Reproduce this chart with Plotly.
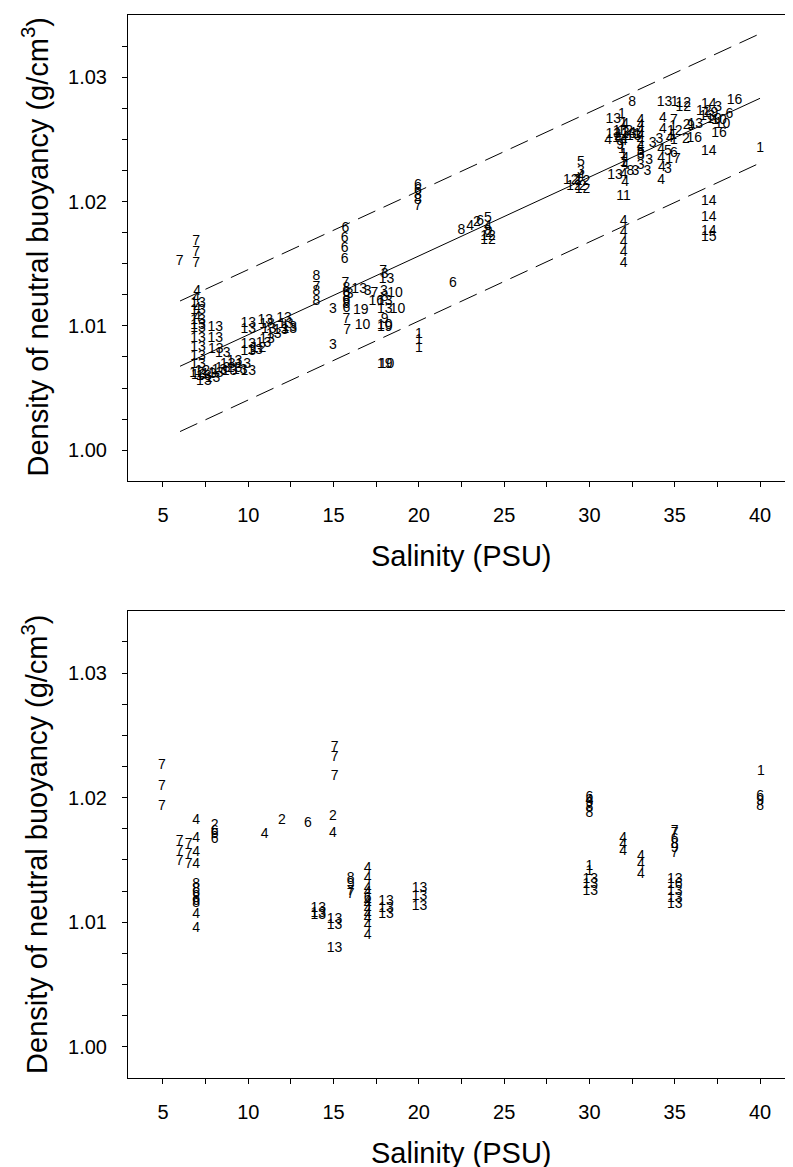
import plotly.graph_objects as go

# ---------------- DATA ----------------
# Top panel: (label, salinity, density)
top_left_7s = [("7", 5.98, 1.0152), ("7", 6.95, 1.0168), ("7", 6.95, 1.0159), ("7", 6.95, 1.0150)]
top_col_7 = [("4", 7.0, 1.0128), ("4", 6.95, 1.0122), ("13", 7.05, 1.0118), ("4", 7.0, 1.0114),
             ("13", 7.05, 1.0112), ("4", 7.0, 1.0107), ("13", 7.05, 1.0104), ("13", 7.05, 1.0100),
             ("13", 7.05, 1.0098), ("13", 7.05, 1.0090), ("13", 7.05, 1.0083), ("13", 7.05, 1.0075),
             ("13", 7.05, 1.0069), ("12", 7.0, 1.0062), ("13", 7.1, 1.0060), ("13", 7.4, 1.0055),
             ("13", 7.4, 1.0059)]
top_low_cluster = [("12", 7.3, 1.0063), ("13", 7.7, 1.0061), ("13", 7.9, 1.0058), ("13", 8.1, 1.0062),
                   ("13", 8.3, 1.0064), ("13", 8.5, 1.0066), ("13", 8.5, 1.0078), ("13", 8.1, 1.0081),
                   ("13", 8.06, 1.0099), ("13", 8.06, 1.0090), ("13", 9.2, 1.0071), ("13", 9.7, 1.0069),
                   ("13", 9.2, 1.0066), ("13", 8.9, 1.0063), ("13", 9.5, 1.0064), ("13", 10.0, 1.0063),
                   ("13", 8.8, 1.0069)]
top_mid_band = [("13", 10.0, 1.0102), ("13", 10.0, 1.0097), ("13", 11.0, 1.0104), ("18", 11.1, 1.0101),
                ("13", 11.2, 1.0097), ("13", 12.1, 1.0106), ("13", 12.2, 1.0101), ("13", 10.0, 1.0085),
                ("13", 10.0, 1.0079), ("12", 10.6, 1.0082), ("13", 10.9, 1.0086), ("13", 11.1, 1.0089),
                ("13", 11.5, 1.0093), ("13", 11.9, 1.0096), ("13", 12.4, 1.0097), ("13", 12.4, 1.0099),
                ("13", 10.4, 1.0080)]
top_s14_16 = [("8", 14.0, 1.0140), ("7", 14.0, 1.0131), ("8", 14.0, 1.0128), ("8", 14.0, 1.0120),
              ("3", 14.96, 1.0113), ("3", 14.96, 1.0084),
              ("6", 15.7, 1.0178), ("6", 15.65, 1.0170), ("6", 15.65, 1.0162), ("6", 15.65, 1.0153),
              ("7", 15.7, 1.0134), ("8", 15.75, 1.0130), ("6", 15.75, 1.0126), ("8", 15.75, 1.0123),
              ("6", 15.75, 1.0120), ("8", 15.75, 1.0117), ("6", 15.75, 1.0114), ("3", 15.95, 1.0125),
              ("13", 16.5, 1.0129), ("3", 17.0, 1.0128), ("7", 15.75, 1.0105), ("7", 15.8, 1.0096),
              ("19", 16.6, 1.0112), ("10", 16.7, 1.0100)]
top_s18 = [("7", 17.9, 1.0144), ("3", 18.0, 1.0141), ("13", 18.1, 1.0137), ("7", 17.4, 1.0126),
           ("3", 17.95, 1.0128), ("10", 18.6, 1.0126), ("16", 17.5, 1.0120), ("13", 18.0, 1.0120),
           ("8", 18.0, 1.0123), ("13", 18.0, 1.0113), ("10", 18.75, 1.0113), ("9", 18.0, 1.0105),
           ("10", 18.0, 1.0100), ("19", 18.0, 1.0099), ("19", 18.0, 1.0069), ("10", 18.1, 1.0069)]
top_s20_24 = [("6", 22.0, 1.0134), ("1", 20.0, 1.0093), ("1", 20.0, 1.0088), ("1", 20.0, 1.0082),
              ("6", 19.95, 1.0213), ("6", 19.95, 1.0209), ("8", 19.95, 1.0205), ("8", 19.95, 1.0201),
              ("7", 19.95, 1.0196), ("8", 22.5, 1.0177), ("4", 23.0, 1.0180), ("2", 23.4, 1.0183),
              ("6", 23.6, 1.0184), ("5", 24.05, 1.0186), ("4", 24.05, 1.0180), ("8", 24.05, 1.0176),
              ("2", 24.1, 1.0174), ("12", 24.05, 1.0172), ("12", 24.05, 1.0169)]
top_s29 = [("5", 29.5, 1.0231), ("3", 29.5, 1.0224), ("4", 29.5, 1.0220), ("12", 28.9, 1.0217),
           ("2", 29.3, 1.0217), ("12", 29.6, 1.0216), ("2", 29.6, 1.0212), ("12", 29.1, 1.0212),
           ("12", 29.6, 1.0210)]
top_s31_34 = [("13", 31.4, 1.0266), ("1", 31.9, 1.0270), ("1", 32.0, 1.0263), ("4", 32.1, 1.0262),
              ("8", 32.5, 1.0280), ("4", 33.0, 1.0265), ("4", 33.0, 1.0261), ("4", 33.0, 1.0257),
              ("4", 33.0, 1.0253), ("4", 33.0, 1.0249), ("4", 33.0, 1.0244), ("4", 31.1, 1.0249),
              ("13", 31.4, 1.0254), ("1", 31.6, 1.0256), ("4", 31.7, 1.0251), ("13", 31.9, 1.0255),
              ("4", 32.0, 1.0248), ("12", 32.1, 1.0256), ("13", 32.3, 1.0254), ("4", 32.5, 1.0255),
              ("13", 32.6, 1.0252), ("1", 32.8, 1.0254), ("14", 31.8, 1.0251), ("9", 31.8, 1.0245),
              ("1", 31.9, 1.0242), ("1", 32.0, 1.0238), ("4", 32.1, 1.0235), ("1", 32.0, 1.0231),
              ("4", 32.1, 1.0229), ("13", 31.5, 1.0221), ("4", 32.0, 1.0222), ("8", 32.4, 1.0224),
              ("3", 32.7, 1.0224), ("4", 32.1, 1.0215), ("11", 32.0, 1.0204), ("5", 33.0, 1.0240),
              ("3", 33.0, 1.0238), ("5", 33.0, 1.0236), ("3", 33.0, 1.0229), ("3", 33.5, 1.0233),
              ("3", 33.4, 1.0224), ("3", 33.7, 1.0247), ("3", 34.1, 1.0250), ("4", 34.2, 1.0242),
              ("4", 34.2, 1.0235), ("3", 34.6, 1.0226), ("4", 34.25, 1.0227), ("4", 34.2, 1.0217),
              ("4", 32.0, 1.0184), ("4", 32.0, 1.0175), ("4", 32.0, 1.0167), ("4", 32.0, 1.0159),
              ("4", 32.0, 1.0150)]
top_s34_40 = [("13", 34.4, 1.0280), ("1", 35.0, 1.0280), ("12", 35.5, 1.0279), ("12", 35.5, 1.0276),
              ("4", 34.3, 1.0267), ("4", 34.3, 1.0258), ("7", 34.95, 1.0265), ("1", 34.9, 1.0260),
              ("12", 35.0, 1.0256), ("1", 34.9, 1.0253), ("4", 34.7, 1.0251), ("1", 34.95, 1.0249),
              ("6", 34.95, 1.0239), ("17", 34.9, 1.0234), ("5", 34.6, 1.0240), ("2", 35.7, 1.0261),
              ("9", 35.95, 1.0260), ("2", 35.65, 1.0250), ("16", 36.15, 1.0251), ("13", 36.2, 1.0262),
              ("12", 36.7, 1.0272), ("14", 37.0, 1.0278), ("3", 37.55, 1.0276), ("16", 38.5, 1.0281),
              ("13", 36.9, 1.0268), ("19", 37.1, 1.0271), ("10", 37.6, 1.0265), ("10", 37.8, 1.0262),
              ("6", 38.2, 1.0270), ("16", 37.6, 1.0255), ("10", 37.3, 1.0266), ("14", 37.0, 1.0240),
              ("1", 40.0, 1.0243), ("14", 37.0, 1.0200), ("14", 37.0, 1.0187), ("14", 37.0, 1.0176),
              ("15", 37.0, 1.0171)]

# Regression line and prediction bands (top panel)
fit_sal = [6, 40]
fit_mean = [1.00675, 1.0283]
fit_upper = [1.0120, 1.0335]
fit_lower = [1.0015, 1.0231]

# Bottom panel: (label, salinity, density)
bot_s5_8 = [("7", 4.94, 1.0226), ("7", 4.94, 1.0209), ("7", 4.94, 1.0193),
            ("4", 6.95, 1.0182), ("2", 8.03, 1.0178), ("6", 8.03, 1.0173), ("6", 8.03, 1.0170),
            ("6", 8.03, 1.0166),
            ("7", 5.98, 1.0165), ("7", 6.5, 1.0162), ("4", 6.95, 1.0167),
            ("7", 5.98, 1.0157), ("7", 6.5, 1.0154), ("4", 6.95, 1.0156),
            ("7", 5.98, 1.0149), ("7", 6.5, 1.0146), ("4", 6.95, 1.0146),
            ("8", 6.95, 1.0130), ("8", 6.95, 1.0126), ("6", 6.95, 1.0123), ("8", 6.95, 1.0119),
            ("6", 6.95, 1.0117), ("8", 6.95, 1.0115), ("4", 6.95, 1.0106), ("4", 6.95, 1.0095)]
bot_s11_20 = [("4", 10.96, 1.0170), ("2", 11.97, 1.0182), ("6", 13.49, 1.0179), ("2", 14.96, 1.0185),
              ("4", 14.96, 1.0171), ("7", 15.06, 1.0240), ("7", 15.06, 1.0232), ("7", 15.06, 1.0217),
              ("8", 16.0, 1.0135), ("9", 16.0, 1.0130), ("7", 16.0, 1.0125), ("7", 16.0, 1.0122),
              ("4", 17.0, 1.0143), ("4", 17.0, 1.0135), ("4", 17.0, 1.0127), ("4", 17.0, 1.0124),
              ("6", 17.0, 1.0119), ("4", 17.0, 1.0117), ("4", 17.0, 1.0114), ("4", 17.0, 1.0110),
              ("4", 17.0, 1.0106), ("4", 17.0, 1.0103), ("4", 17.0, 1.0097), ("4", 17.0, 1.0089),
              ("13", 14.1, 1.0111), ("13", 14.1, 1.0107), ("13", 14.1, 1.0105), ("13", 15.06, 1.0102),
              ("13", 15.06, 1.0097), ("13", 15.06, 1.0079), ("13", 18.08, 1.0117), ("13", 18.08, 1.0111),
              ("13", 18.08, 1.0106), ("13", 20.04, 1.0127), ("13", 20.04, 1.0121), ("13", 20.04, 1.0113)]
bot_s30_40 = [("6", 30.0, 1.0200), ("4", 30.0, 1.0198), ("9", 30.0, 1.0195), ("8", 30.0, 1.0192),
              ("8", 30.0, 1.0187), ("1", 30.0, 1.0145), ("1", 30.0, 1.0141), ("13", 30.05, 1.0134),
              ("13", 30.05, 1.0130), ("13", 30.05, 1.0125),
              ("4", 31.98, 1.0167), ("4", 31.98, 1.0162), ("4", 31.98, 1.0157),
              ("4", 33.02, 1.0153), ("4", 33.02, 1.0146), ("4", 33.02, 1.0138),
              ("7", 35.0, 1.0173), ("7", 35.0, 1.0171), ("6", 35.0, 1.0166), ("8", 35.0, 1.0162),
              ("9", 35.0, 1.0159), ("7", 35.0, 1.0155),
              ("13", 35.0, 1.0134), ("16", 35.0, 1.0130), ("13", 35.0, 1.0125), ("13", 35.0, 1.0119),
              ("13", 35.0, 1.0114),
              ("1", 40.05, 1.0221), ("6", 40.0, 1.0201), ("9", 40.0, 1.0197), ("8", 40.0, 1.0193)]

x_tick_vals = [5, 7.5, 10, 12.5, 15, 17.5, 20, 22.5, 25, 27.5, 30, 32.5, 35, 37.5, 40]
x_tick_text = ["5", " ", "10", " ", "15", " ", "20", " ", "25", " ", "30", " ", "35", " ", "40"]
y_tick_vals = [1.0, 1.0025, 1.005, 1.0075, 1.01, 1.0125, 1.015, 1.0175, 1.02, 1.0225, 1.025,
               1.0275, 1.03, 1.0325]
y_tick_text = ["1.00", " ", " ", " ", "1.01", " ", " ", " ", "1.02", " ", " ", " ", "1.03", " "]

# ---------------- FIGURE ----------------
FONT = "Arial, Liberation Sans, sans-serif"
W, H = 793, 1167
ML, MR, MT, MB = 120, 6, 7, 97
PH = H - MT - MB

top_pts = (top_left_7s + top_col_7 + top_low_cluster + top_mid_band + top_s14_16 + top_s18
           + top_s20_24 + top_s29 + top_s31_34 + top_s34_40)
bot_pts = bot_s5_8 + bot_s11_20 + bot_s30_40

fig = go.Figure()

fig.add_trace(go.Scatter(x=fit_sal, y=fit_mean, mode="lines",
                         line=dict(color="black", width=1), xaxis="x", yaxis="y",
                         showlegend=False, hoverinfo="skip"))
for band in (fit_upper, fit_lower):
    fig.add_trace(go.Scatter(x=fit_sal, y=band, mode="lines",
                             line=dict(color="black", width=1, dash="19px,9px"),
                             xaxis="x", yaxis="y", showlegend=False, hoverinfo="skip"))

fig.add_trace(go.Scatter(x=[p[1] for p in top_pts], y=[p[2] for p in top_pts],
                         text=[p[0] for p in top_pts], mode="text", textposition="middle center",
                         textfont=dict(family=FONT, size=14, color="black"),
                         xaxis="x", yaxis="y", showlegend=False))
fig.add_trace(go.Scatter(x=[p[1] for p in bot_pts], y=[p[2] for p in bot_pts],
                         text=[p[0] for p in bot_pts], mode="text", textposition="middle center",
                         textfont=dict(family=FONT, size=14, color="black"),
                         xaxis="x2", yaxis="y2", showlegend=False))

top_y0 = (H - MB - 473.3) / PH
bot_y1 = (H - MB - 602.7) / PH

xax = dict(range=[2.95, 42.05], tickmode="array", tickvals=x_tick_vals, ticktext=x_tick_text,
           ticks="outside", ticklen=5, tickwidth=1, tickcolor="black",
           showline=True, linecolor="black", linewidth=1, mirror=True,
           showgrid=False, zeroline=False, ticklabelstandoff=11,
           tickfont=dict(family=FONT, size=20, color="black"))
yax = dict(range=[0.9975, 1.035], tickmode="array", tickvals=y_tick_vals, ticktext=y_tick_text,
           ticks="outside", ticklen=5, tickwidth=1, tickcolor="black",
           showline=True, linecolor="black", linewidth=1, mirror=True,
           showgrid=False, zeroline=False, ticklabelstandoff=11,
           tickfont=dict(family=FONT, size=20, color="black"))

fig.update_layout(
    width=W, height=H, paper_bgcolor="white", plot_bgcolor="white",
    margin=dict(l=ML, r=MR, t=MT, b=MB),
    xaxis=dict(xax, domain=[0, 1], anchor="y"),
    yaxis=dict(yax, domain=[top_y0, 1], anchor="x"),
    xaxis2=dict(xax, domain=[0, 1], anchor="y2"),
    yaxis2=dict(yax, domain=[0, bot_y1], anchor="x2"),
    showlegend=False,
)

ytitle = "Density of neutral buoyancy (g/cm<sup>3</sup>)"
xtitle = "Salinity (PSU)"
title_font = dict(family=FONT, size=29, color="black")
xpx_title = (27.5 - ML) / (W - ML - MR)
annots = [
    dict(text=ytitle, x=xpx_title, y=(H - MB - 239.0) / PH, xref="paper", yref="paper",
         textangle=-90, showarrow=False, xanchor="center", yanchor="middle", font=title_font),
    dict(text=ytitle, x=xpx_title, y=(H - MB - 836.4) / PH, xref="paper", yref="paper",
         textangle=-90, showarrow=False, xanchor="center", yanchor="middle", font=title_font),
    dict(text=xtitle, x=0.5, y=(H - MB - 548.3) / PH, xref="paper", yref="paper",
         showarrow=False, xanchor="center", yanchor="middle", font=title_font),
    dict(text=xtitle, x=0.5, y=(H - MB - 1145.0) / PH, xref="paper", yref="paper",
         showarrow=False, xanchor="center", yanchor="middle", font=title_font),
]
fig.update_layout(annotations=annots)

fig.write_html("out.html")
